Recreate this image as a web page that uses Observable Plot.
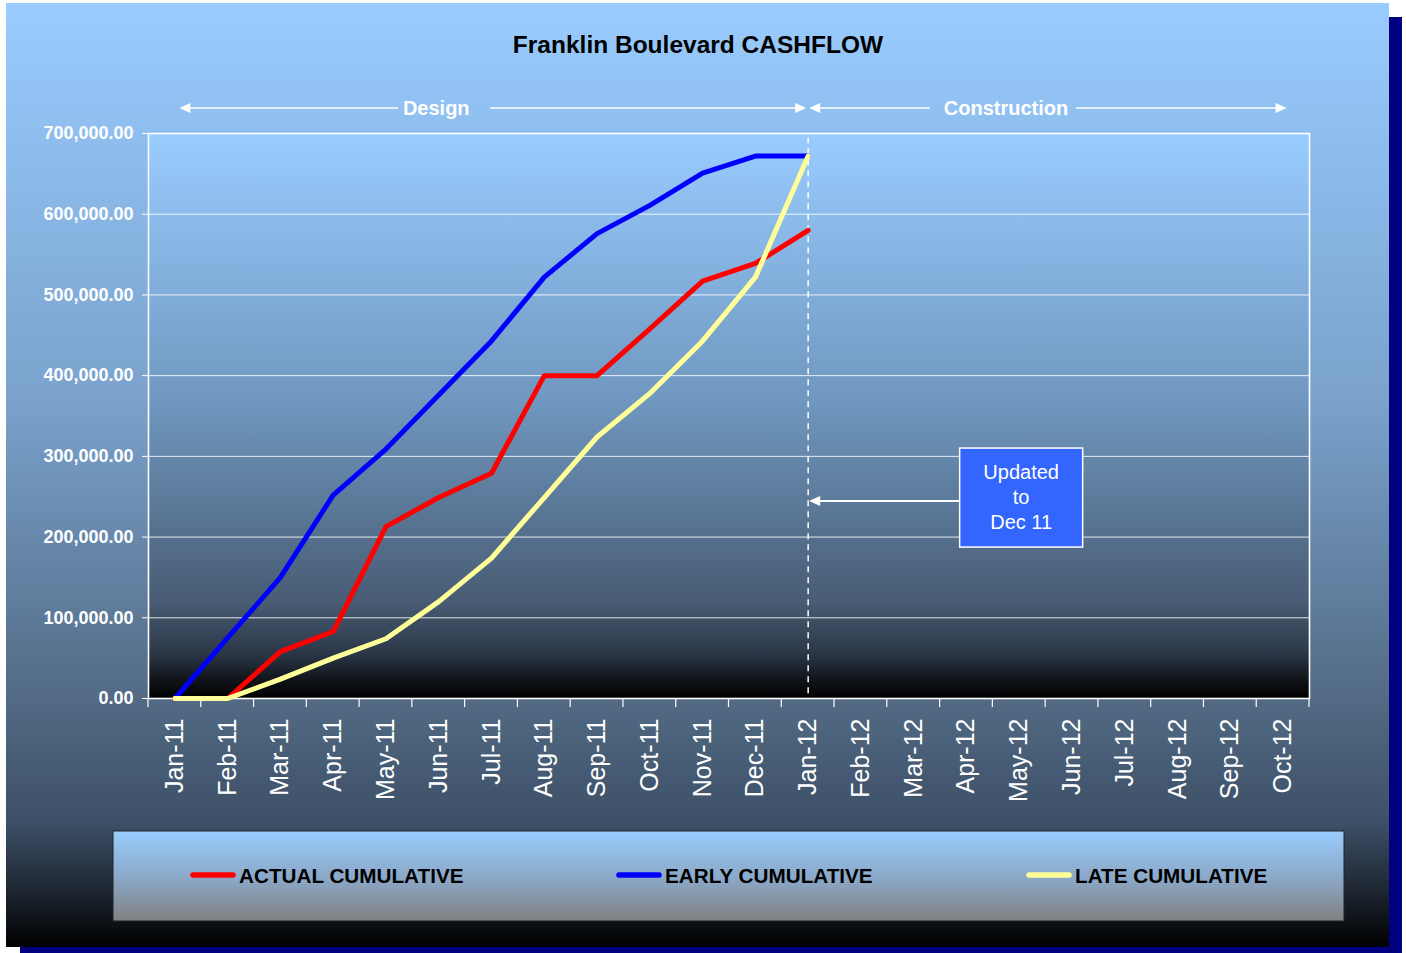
<!DOCTYPE html>
<html>
<head>
<meta charset="utf-8">
<script src="https://cdn.jsdelivr.net/npm/d3@7"></script>
<script src="https://cdn.jsdelivr.net/npm/@observablehq/plot@0.6"></script>
<style>
  html, body { margin: 0; padding: 0; background: #ffffff; }
  #chart svg { display: block; }
</style>
</head>
<body>
<div id="chart"></div>
<script>
// ---------- data ----------
const months = ["Jan-11","Feb-11","Mar-11","Apr-11","May-11","Jun-11","Jul-11","Aug-11","Sep-11","Oct-11","Nov-11","Dec-11",
                "Jan-12","Feb-12","Mar-12","Apr-12","May-12","Jun-12","Jul-12","Aug-12","Sep-12","Oct-12"];
const actualCumulative = [0, 0, 58000, 83000, 213000, 249000, 279000, 400000, 400000, 458000, 517000, 539000, 580000];
const earlyCumulative  = [0, 75000, 150000, 252000, 309000, 376000, 443000, 522000, 576000, 611000, 651000, 672000, 672000];
const lateCumulative   = [0, 0, 24000, 50000, 74000, 120000, 174000, 249000, 324000, 378000, 443000, 522000, 672000];
const yTicks = [0, 100000, 200000, 300000, 400000, 500000, 600000, 700000];
const seriesNames  = ["ACTUAL CUMULATIVE", "EARLY CUMULATIVE", "LATE CUMULATIVE"];
const seriesColors = ["#FF0000", "#0000FF", "#FFFF99"];
const chartTitle = "Franklin Boulevard CASHFLOW";
const phaseNames = ["Design", "Construction"];
const cutoffMonth = "Jan-12";
const noteLines = ["Updated", "to", "Dec 11"];
const noteValue = 244000;

// ---------- helpers ----------
const FONT = "'Liberation Sans', Arial, Helvetica, sans-serif";
const rows = (vals) => vals.map((v, i) => ({month: months[i], value: v}));

function arrowHead(g, tipX, y, dir) {
  // dir = -1 points left, +1 points right
  g.append("path")
    .attr("d", `M${tipX},${y} L${tipX - dir * 11},${y - 5} L${tipX - dir * 11},${y + 5} Z`)
    .attr("fill", "white");
}

function background(index, scales, values, dim) {
  const {width, height, marginLeft, marginRight, marginTop, marginBottom} = dim;
  const g = d3.create("svg:g");
  const defs = g.append("defs");
  const grad = (id, stops) => {
    const lg = defs.append("linearGradient").attr("id", id)
      .attr("x1", 0).attr("y1", 0).attr("x2", 0).attr("y2", 1);
    stops.forEach(([o, c]) => lg.append("stop").attr("offset", o).attr("stop-color", c));
  };
  grad("panelGrad", [[0, "#99ccff"], [0.42, "#7aa2cc"], [0.74, "#526a84"], [0.87, "#3c4f66"], [0.95, "#19202a"], [1, "#000000"]]);
  grad("plotGrad", [[0, "#99ccff"], [0.47, "#7098c0"], [0.83, "#485c74"], [0.92, "#2c3848"], [0.97, "#0f1318"], [1, "#000000"]]);
  grad("legendGrad", [[0, "#99ccff"], [0.55, "#8aa6c4"], [1, "#808080"]]);
  g.append("rect").attr("x", 20).attr("y", 17).attr("width", width - 4 - 20).attr("height", height - 17).attr("fill", "#000080");
  g.append("rect").attr("x", 6).attr("y", 3).attr("width", 1383).attr("height", 944).attr("fill", "url(#panelGrad)");
  g.append("rect").attr("x", marginLeft).attr("y", marginTop)
    .attr("width", width - marginLeft - marginRight).attr("height", height - marginTop - marginBottom)
    .attr("fill", "url(#plotGrad)");
  return g.node();
}

function decorations(index, scales, values, dim) {
  const {width, height, marginLeft, marginRight, marginTop, marginBottom} = dim;
  const bw = (width - marginLeft - marginRight) / months.length;
  const xc = (m) => scales.x(m) + bw / 2;
  const y0 = height - marginBottom;
  const g = d3.create("svg:g").attr("font-family", FONT).attr("text-anchor", "start");

  // category boundary ticks on the x axis
  const bounds = months.map((m) => scales.x(m)).concat([scales.x(months[months.length - 1]) + bw]);
  g.append("g").selectAll("line").data(bounds).join("line")
    .attr("x1", (d) => d).attr("x2", (d) => d).attr("y1", y0).attr("y2", y0 + 9)
    .attr("stroke", "white").attr("stroke-width", 1.2);

  // title
  g.append("text").attr("x", 698).attr("y", 44).attr("dy", "0.35em")
    .attr("text-anchor", "middle").attr("font-size", 24.5).attr("font-weight", "bold")
    .attr("fill", "black").text(chartTitle);

  // phase arrows
  const cut = xc(cutoffMonth);
  const py = 108;
  const dStart = xc(months[0]) + 5, dLabel = xc("Jun-11") - 2;
  const cLabel = 1006, cEnd = xc(months[months.length - 1]) + 4;
  const seg = (a, b) => g.append("line").attr("x1", a).attr("x2", b).attr("y1", py).attr("y2", py)
    .attr("stroke", "white").attr("stroke-width", 1.6);
  seg(dStart + 8, dLabel - 38); arrowHead(g, dStart, py, -1);
  seg(dLabel + 54, cut - 9); arrowHead(g, cut - 1.5, py, 1);
  seg(cut + 10, cLabel - 76); arrowHead(g, cut + 1.5, py, -1);
  seg(cLabel + 70, cEnd - 8); arrowHead(g, cEnd, py, 1);
  [[dLabel, phaseNames[0]], [cLabel, phaseNames[1]]].forEach(([x, t]) =>
    g.append("text").attr("x", x).attr("y", py).attr("dy", "0.35em").attr("text-anchor", "middle")
      .attr("font-size", 20).attr("font-weight", "bold").attr("fill", "white").text(t));

  // "Updated to Dec 11" note
  const ny = scales.y(noteValue);
  const bx = cut + 152, bwid = 123;
  g.append("line").attr("x1", cut + 10).attr("x2", bx).attr("y1", ny).attr("y2", ny)
    .attr("stroke", "white").attr("stroke-width", 2);
  arrowHead(g, cut + 1.5, ny, -1);
  g.append("rect").attr("x", bx).attr("y", ny - 53).attr("width", bwid).attr("height", 99)
    .attr("fill", "#3366ff").attr("stroke", "white").attr("stroke-width", 1.5);
  noteLines.forEach((t, i) =>
    g.append("text").attr("x", bx + bwid / 2).attr("y", ny - 29 + i * 25).attr("dy", "0.35em")
      .attr("text-anchor", "middle").attr("font-size", 20).attr("fill", "white").text(t));

  // legend
  g.append("rect").attr("x", 113).attr("y", 831).attr("width", 1231).attr("height", 90)
    .attr("fill", "url(#legendGrad)").attr("stroke", "#222").attr("stroke-width", 1);
  const lx = [190, 616, 1026];
  seriesNames.forEach((name, i) => {
    g.append("line").attr("x1", lx[i] + 3).attr("x2", lx[i] + 43).attr("y1", 875).attr("y2", 875)
      .attr("stroke", seriesColors[i]).attr("stroke-width", 5.5).attr("stroke-linecap", "round");
    g.append("text").attr("x", lx[i] + 49).attr("y", 876).attr("dy", "0.35em")
      .attr("text-anchor", "start")
      .attr("font-size", 20.7).attr("font-weight", "bold").attr("fill", "black").text(name);
  });
  return g.node();
}

// ---------- chart ----------
const chart = Plot.plot({
  width: 1406,
  height: 953,
  marginLeft: 148,
  marginRight: 97,
  marginTop: 133,
  marginBottom: 255,
  style: {fontFamily: FONT, background: "white", overflow: "visible"},
  x: {type: "band", domain: months, padding: 0, round: false},
  y: {domain: [0, 700000]},
  marks: [
    background,
    Plot.gridY({ticks: yTicks, stroke: "white", strokeOpacity: 0.85, strokeWidth: 1}),
    Plot.frame({stroke: "white", strokeWidth: 1.6}),
    Plot.axisY({ticks: yTicks, tickFormat: d3.format(",.2f"), color: "white", fontWeight: "bold",
                fontSize: 18, tickSize: 6, tickPadding: 9, label: null}),
    Plot.axisX({tickSize: 0, tickPadding: 20, tickRotate: -90, color: "white", fontSize: 25, label: null}),
    Plot.ruleX([cutoffMonth], {y1: 6000, y2: 694000, stroke: "white", strokeWidth: 1.5, strokeDasharray: "6,5"}),
    Plot.line(rows(earlyCumulative),  {x: "month", y: "value", stroke: seriesColors[1], strokeWidth: 5}),
    Plot.line(rows(actualCumulative), {x: "month", y: "value", stroke: seriesColors[0], strokeWidth: 5}),
    Plot.line(rows(lateCumulative),   {x: "month", y: "value", stroke: seriesColors[2], strokeWidth: 5}),
    decorations
  ]
});
document.getElementById("chart").appendChild(chart);
</script>
</body>
</html>
